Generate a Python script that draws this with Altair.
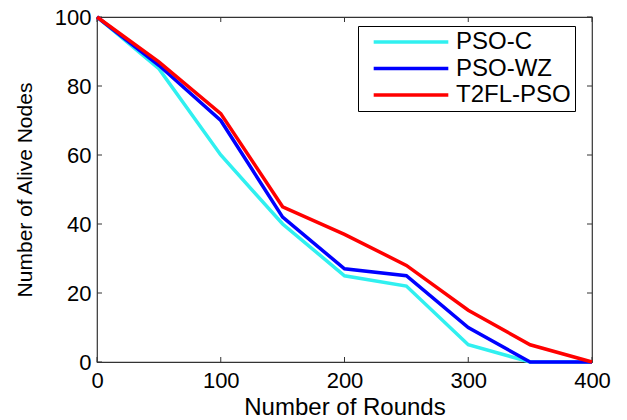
import altair as alt
import pandas as pd

rounds = [0, 50, 100, 150, 200, 250, 300, 350, 400]
pso_c = [100, 85, 60, 40, 25, 22, 5, 0, 0]
pso_wz = [100, 86, 70, 42, 27, 25, 10, 0, 0]
t2fl_pso = [100, 87, 72, 45, 37, 28, 15, 5, 0]

series_names = ["PSO-C", "PSO-WZ", "T2FL-PSO"]
series_colors = ["#30F0F0", "#0000FF", "#FF0000"]

x_ticks = [0, 100, 200, 300, 400]
y_ticks = [0, 20, 40, 60, 80, 100]

W, H = 495, 345
FONT = "Liberation Sans"

rows = []
for name, vals in zip(series_names, [pso_c, pso_wz, t2fl_pso]):
    for r, v in zip(rounds, vals):
        rows.append({"Rounds": r, "Alive": v, "Series": name})
df = pd.DataFrame(rows)

xscale = alt.Scale(domain=[0, 400], nice=False, zero=False)
yscale = alt.Scale(domain=[0, 100], nice=False, zero=False)

lines = alt.Chart(df).mark_line(strokeWidth=3.5, clip=False).encode(
    x=alt.X("Rounds:Q", scale=xscale,
            axis=alt.Axis(title="Number of Rounds", values=x_ticks, grid=False,
                          ticks=False, domain=False, labelFontSize=22,
                          labelPadding=8, titleFontSize=24, titlePadding=4,
                          labelFont=FONT, titleFont=FONT, labelColor="black",
                          titleColor="black", titleFontWeight="normal",
                          labelFlush=False)),
    y=alt.Y("Alive:Q", scale=yscale,
            axis=alt.Axis(title="Number of Alive Nodes", values=y_ticks, grid=False,
                          ticks=False, domain=False, labelFontSize=22,
                          labelPadding=6, titleFontSize=21, titlePadding=19,
                          labelFont=FONT, titleFont=FONT, labelColor="black",
                          titleColor="black", titleFontWeight="normal",
                          labelFlush=False)),
    color=alt.Color("Series:N",
                    scale=alt.Scale(domain=series_names, range=series_colors),
                    legend=alt.Legend(title=None, orient="none", legendX=261, legendY=9,
                                      symbolType="M-4,0H4", symbolSize=348,
                                      symbolStrokeWidth=3.5, symbolOffset=37,
                                      labelFontSize=24, labelOffset=33,
                                      labelFont=FONT, labelColor="black",
                                      strokeColor="black", fillColor="white",
                                      padding=4, rowPadding=2.5)),
)

xt = pd.DataFrame({"t": x_ticks})
yt = pd.DataFrame({"t": y_ticks})
tick_color = "#333333"

bottom_ticks = alt.Chart(xt).mark_rule(color=tick_color, strokeWidth=1).encode(
    x=alt.X("t:Q", scale=xscale), y=alt.value(H), y2=alt.value(H - 5))
top_ticks = alt.Chart(xt).mark_rule(color=tick_color, strokeWidth=1).encode(
    x=alt.X("t:Q", scale=xscale), y=alt.value(0), y2=alt.value(5))
left_ticks = alt.Chart(yt).mark_rule(color=tick_color, strokeWidth=1).encode(
    y=alt.Y("t:Q", scale=yscale), x=alt.value(0), x2=alt.value(5))
right_ticks = alt.Chart(yt).mark_rule(color=tick_color, strokeWidth=1).encode(
    y=alt.Y("t:Q", scale=yscale), x=alt.value(W), x2=alt.value(W - 5))

chart = alt.layer(bottom_ticks, top_ticks, left_ticks, right_ticks, lines).properties(
    width=W, height=H,
    autosize=alt.AutoSizeParams(type="none"),
    padding={"left": 89, "top": 9, "right": 20, "bottom": 60},
    background="white",
).configure_view(stroke="#333333", strokeWidth=1.2)

chart.save("out.html", embed_options={"renderer": "svg", "actions": False})
